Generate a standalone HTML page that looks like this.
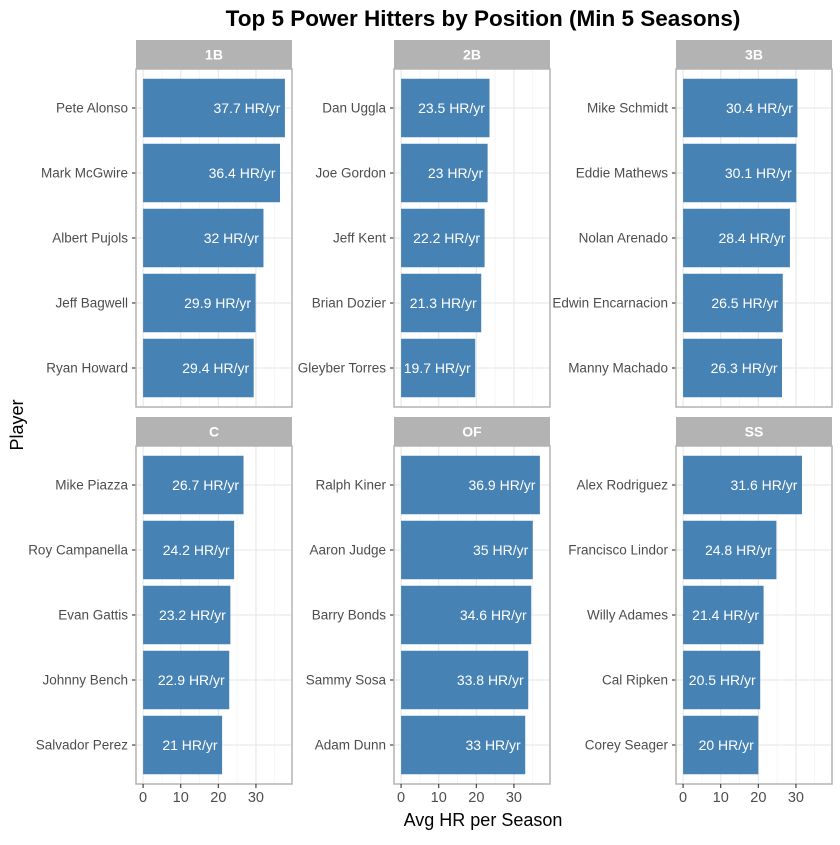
<!DOCTYPE html>
<html><head><meta charset="utf-8"><style>
body{margin:0;background:#fff;}
svg{font-family:"Liberation Sans",sans-serif;}
</style></head><body>
<svg id="chart" width="840" height="840" xmlns="http://www.w3.org/2000/svg">
<text x="483" y="26" text-anchor="middle" font-size="22.5" font-weight="bold" fill="#000">Top 5 Power Hitters by Position (Min 5 Seasons)</text>
<text x="483" y="826" text-anchor="middle" font-size="18" fill="#000">Avg HR per Season</text>
<text transform="translate(23,425) rotate(-90)" text-anchor="middle" font-size="18" fill="#000">Player</text>
</svg>
<script>
const positions = ["1B","2B","3B","C","OF","SS"];
const players1B = ["Pete Alonso","Mark McGwire","Albert Pujols","Jeff Bagwell","Ryan Howard"];
const values1B = [37.7,36.4,32,29.9,29.4];
const players2B = ["Dan Uggla","Joe Gordon","Jeff Kent","Brian Dozier","Gleyber Torres"];
const values2B = [23.5,23,22.2,21.3,19.7];
const players3B = ["Mike Schmidt","Eddie Mathews","Nolan Arenado","Edwin Encarnacion","Manny Machado"];
const values3B = [30.4,30.1,28.4,26.5,26.3];
const playersC = ["Mike Piazza","Roy Campanella","Evan Gattis","Johnny Bench","Salvador Perez"];
const valuesC = [26.7,24.2,23.2,22.9,21];
const playersOF = ["Ralph Kiner","Aaron Judge","Barry Bonds","Sammy Sosa","Adam Dunn"];
const valuesOF = [36.9,35,34.6,33.8,33];
const playersSS = ["Alex Rodriguez","Francisco Lindor","Willy Adames","Cal Ripken","Corey Seager"];
const valuesSS = [31.6,24.8,21.4,20.5,20];
const xTicks = [0,10,20,30];

const NS="http://www.w3.org/2000/svg";
const svg=document.getElementById('chart');
function el(t,a,p){const e=document.createElementNS(NS,t);for(const k in a)e.setAttribute(k,a[k]);(p||svg).appendChild(e);return e;}
const allPlayers=[players1B,players2B,players3B,playersC,playersOF,playersSS];
const allValues=[values1B,values2B,values3B,valuesC,valuesOF,valuesSS];
const maxV=Math.max(...allValues.flat());
const dMin=-0.05*maxV, dMax=maxV*1.05;
const colLeft=[136,394,676], PW=156;
const rowTop=[69,446], PH=338;
positions.forEach((pos,i)=>{
  const L=colLeft[i%3], T=rowTop[Math.floor(i/3)];
  const x=v=>L+(v-dMin)/(dMax-dMin)*PW;
  const n=allPlayers[i].length;
  const step=PH/(n-1+1.2);
  const y=k=>T+(0.6+k)*step;
  const g=el('g',{});
  
  
  const s=el('rect',{x:L,y:T-29,width:PW,height:29,fill:'#b3b3b3'},g);
  
  
  const st=el('text',{x:L+PW/2,y:T-9.5,'text-anchor':'middle','font-size':14,'font-weight':'bold',fill:'#fff'},g);
  st.textContent=pos;
  
  
  for(let v=5;v<dMax;v+=10){el('line',{x1:x(v),x2:x(v),y1:T,y2:T+PH,stroke:'#f0f0f0','stroke-width':0.6},g);}
  xTicks.forEach(v=>el('line',{x1:x(v),x2:x(v),y1:T,y2:T+PH,stroke:'#e6e6e6','stroke-width':1.1},g));
  for(let k=0;k<n;k++) el('line',{x1:L,x2:L+PW,y1:y(k),y2:y(k),stroke:'#e6e6e6','stroke-width':1.1},g);
  allValues[i].forEach((v,k)=>{
    const b=el('rect',{x:x(0),y:y(k)-0.45*step,width:x(v)-x(0),height:0.9*step,fill:'#4682b4'},g);
    
    
    const t=el('text',{x:x(v)-4.5,y:y(k)+5,'text-anchor':'end','font-size':14,fill:'#fff'},g);
    t.textContent=v+' HR/yr';
    
    
    el('line',{x1:L-4,x2:L,y1:y(k),y2:y(k),stroke:'#333','stroke-width':1.1},g);
    const pl=el('text',{x:L-8,y:y(k)+4.5,'text-anchor':'end','font-size':13.5,fill:'#4d4d4d'},g);
    pl.textContent=allPlayers[i][k];
    
    
  });
  el('rect',{x:L,y:T,width:PW,height:PH,fill:'none',stroke:'#b3b3b3','stroke-width':1.5},g);
  if(i>=3){
    xTicks.forEach(v=>{
      el('line',{x1:x(v),x2:x(v),y1:T+PH,y2:T+PH+4,stroke:'#333','stroke-width':1.1},g);
      const t=el('text',{x:x(v),y:T+PH+18,'text-anchor':'middle','font-size':14.5,fill:'#4d4d4d'},g);
      t.textContent=v;
      
      
    });
  }
});
</script>
</body></html>
